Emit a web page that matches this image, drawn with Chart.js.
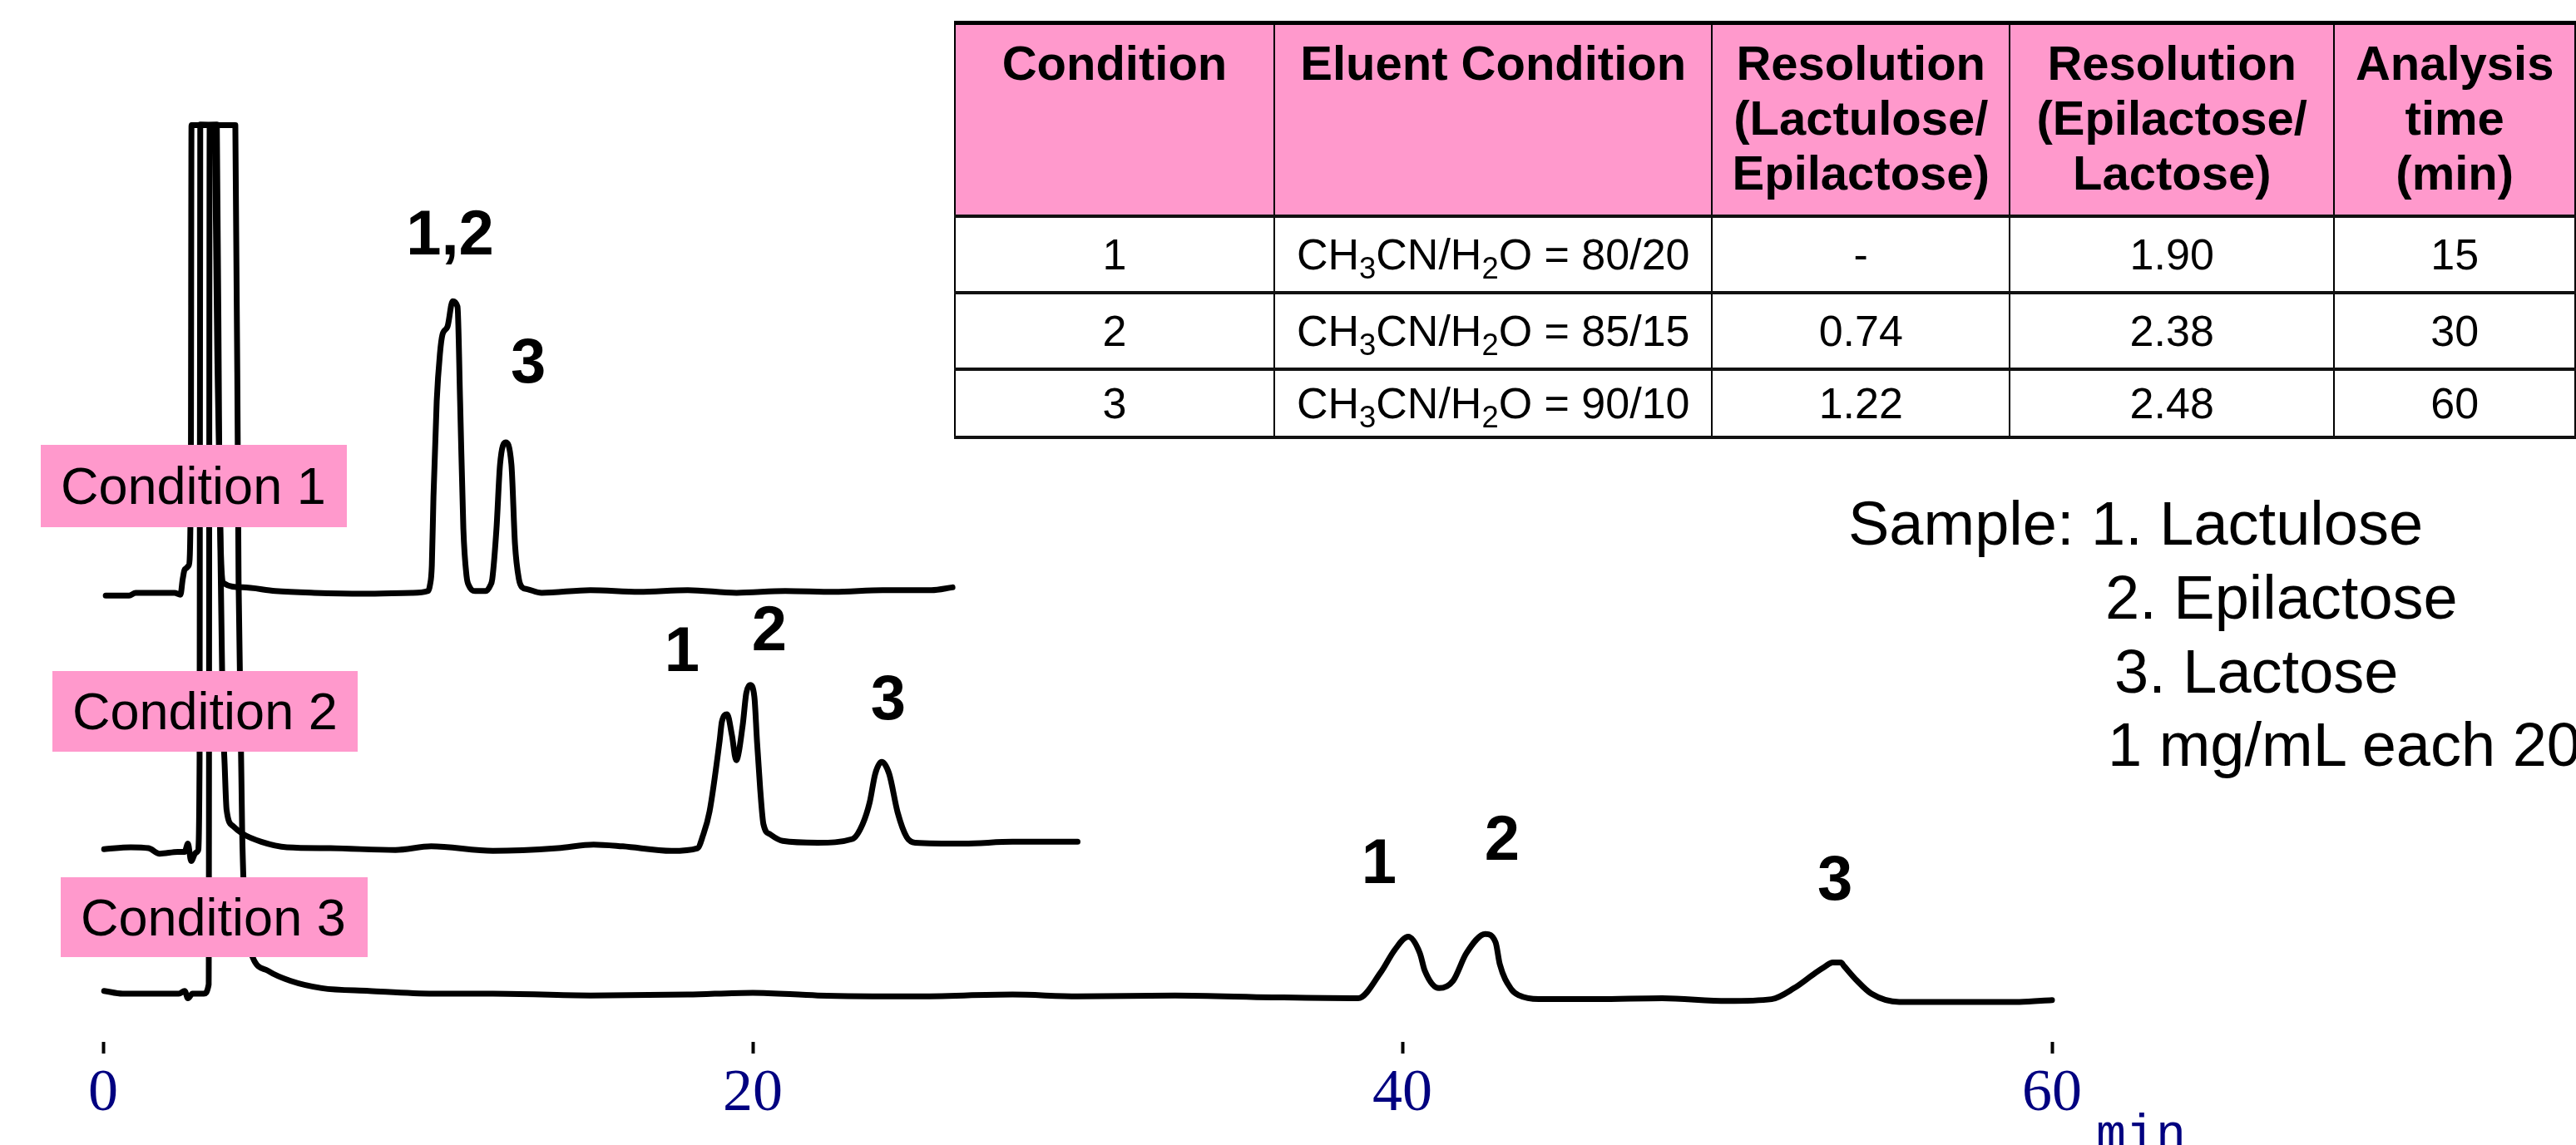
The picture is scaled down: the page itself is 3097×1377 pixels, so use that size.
<!DOCTYPE html>
<html>
<head>
<meta charset="utf-8">
<script src="https://cdn.jsdelivr.net/npm/chart.js@4.4.1/dist/chart.umd.min.js"></script>
<style>
  html, body { margin: 0; padding: 0; background: #fff; overflow: hidden; }
  #wrap { position: relative; width: 3097px; height: 1377px; overflow: hidden; font-family: 'Liberation Sans', Arial, sans-serif; color: #000; }
  #chart { position: absolute; left: 0; top: 0; }
  .cond { position: absolute; background: #ff99cc; font-size: 63px; line-height: 1; display: flex; align-items: center; box-sizing: border-box; padding-left: 24px; white-space: nowrap; }
  .sample { position: absolute; font-size: 74px; line-height: 74px; white-space: nowrap; }
  #tbl { position: absolute; left: 1147px; top: 25px; border-collapse: collapse; table-layout: fixed; border-top: 5px solid #000; }
  #tbl th, #tbl td { border-left: 2px solid #000; border-right: 2px solid #000; border-top: 4px solid #111; border-bottom: 4px solid #111; padding: 0; text-align: center; white-space: nowrap; }
  #tbl th { background: #ff99cc; font-weight: bold; font-size: 58px; line-height: 66px; vertical-align: top; padding-top: 13px; height: 215px; }
  #tbl td { font-size: 52px; vertical-align: middle; height: 88px; }
  #tbl tr.last td { height: 78px; }
  #tbl sub { font-size: 0.7em; line-height: 0; vertical-align: -0.3em; }
</style>
</head>
<body>
<div id="wrap">
  <canvas id="chart" width="3097" height="1377"></canvas>
  <table id="tbl"></table>
</div>
<script>
// x axis (retention time, min)
const timeTicks = [0, 20, 40, 60];

// three chromatograms, stacked; signal is relative to each trace's own baseline
const conditionNames = ['Condition 1', 'Condition 2', 'Condition 3'];
const baselineOffset = [48.96, 21.12, 5.26];

const cond1Time = [0.08, 0.8, 1.0, 2.2, 2.38, 2.45, 2.52, 2.64, 2.70, 2.72, 3.42, 3.52, 3.62, 3.69, 4.3, 5.3, 6.5, 8.0, 9.5,
  10.0, 10.06, 10.12, 10.17, 10.27, 10.37, 10.45, 10.60, 10.76, 10.91, 10.99, 11.09, 11.19, 11.26, 11.45, 11.78,
  11.92, 11.98, 12.11, 12.22, 12.39, 12.57, 12.68, 12.80, 12.90, 13.06,
  13.5, 15.0, 16.5, 18.0, 19.5, 21.0, 22.5, 24.0, 25.5, 26.15];
const cond1Signal = [-0.3, -0.3, 0.0, 0.0, -0.2, 1.5, 2.6, 3.0, 12, 51.0, 51.0, 25, 5, 1.1, 0.6, 0.2, 0.0, -0.1, 0.0,
  0.2, 0.8, 3.0, 10.5, 20.9, 26.1, 28.2, 29.0, 31.8, 31.2, 20.9, 7.0, 1.8, 0.8, 0.2, 0.2,
  0.8, 1.5, 7.0, 14.0, 16.4, 14.0, 5.3, 1.5, 0.6, 0.4,
  0.0, 0.3, 0.1, 0.3, 0.0, 0.2, 0.1, 0.3, 0.3, 0.6];

const cond2Time = [0.03, 0.85, 1.4, 1.74, 2.3, 2.51, 2.61, 2.71, 2.85, 2.92, 2.97, 2.99, 3.50, 3.58, 3.68, 3.74, 3.80, 4.0,
  4.28, 4.87, 5.66, 7.0, 9.0, 10.1, 12.0, 14.0, 15.1, 16.0, 17.5, 18.3,
  18.46, 18.67, 18.98, 19.05, 19.21, 19.36, 19.49, 19.69, 19.80, 19.92, 20.05, 20.13, 20.23, 20.33, 20.54, 20.92,
  22.0, 23.07, 23.38, 23.6, 23.77, 23.97, 24.2, 24.46, 24.74, 25.0, 26.5, 28.0, 30.0];
const cond2Signal = [-0.1, 0.1, 0.0, -0.6, -0.4, -0.4, 0.5, -1.4, -0.5, -0.3, 10, 78.9, 78.9, 40, 15, 9.2, 4.2, 2.4,
  1.6, 0.7, 0.1, 0.0, -0.2, 0.2, -0.3, 0.0, 0.4, 0.2, -0.3, 0.0,
  1.3, 4.0, 11.7, 13.8, 14.6, 12.3, 9.6, 13.4, 16.9, 17.8, 16.5, 11.7, 6.4, 2.6, 1.5, 0.8,
  0.6, 1.0, 2.6, 5.0, 8.1, 9.4, 8.1, 3.9, 1.2, 0.6, 0.5, 0.7, 0.7];

const cond3Time = [0.03, 0.6, 1.5, 2.33, 2.51, 2.61, 2.75, 3.10, 3.25, 3.28, 4.07, 4.17, 4.28, 4.38, 4.6, 5.07, 5.76, 6.73,
  8.19, 10.17, 12, 15, 18, 20, 22, 25, 28, 30, 33, 36, 38.64,
  39.33, 39.77, 40.18, 40.54, 40.69, 41.13, 41.56, 41.97, 42.56, 42.87, 43.0, 43.35, 43.6, 44.2, 46, 48, 50, 51.37,
  52.06, 52.73, 52.99, 53.25, 53.5, 53.6, 54.0, 54.44, 55.3, 57, 59, 60];
const cond3Signal = [0.3, 0.0, 0.0, 0.0, 0.3, -0.5, 0.0, 0.0, 1.0, 94.7, 94.7, 44.9, 17.7, 8.0, 4.0, 2.5, 1.4, 0.6,
  0.3, 0.0, 0.0, -0.2, -0.1, 0.1, -0.2, -0.3, -0.1, -0.3, -0.2, -0.4, -0.5,
  2.3, 4.8, 6.2, 4.4, 2.5, 0.6, 1.4, 4.4, 6.5, 5.6, 3.2, 0.5, -0.2, -0.6, -0.6, -0.5, -0.8, -0.6,
  0.6, 2.3, 2.9, 3.4, 3.4, 3.0, 1.4, 0.0, -0.9, -0.9, -0.9, -0.7];

// peak numbers (time, stacked level)
const peakLabelText = ['1,2', '3', '1', '2', '3', '1', '2', '3'];
const peakLabelTime = [10.68, 13.09, 17.82, 20.51, 24.17, 39.28, 43.07, 53.32];
const peakLabelLevel = [85.9, 71.9, 40.4, 42.7, 35.2, 17.3, 19.9, 15.5];

// table
const tableHeaders = ['Condition', 'Eluent Condition', 'Resolution<br>(Lactulose/<br>Epilactose)', 'Resolution<br>(Epilactose/<br>Lactose)', 'Analysis<br>time<br>(min)'];
const tableConditions = ['1', '2', '3'];
const eluentRatio = ['80/20', '85/15', '90/10'];
const resLactuloseEpilactose = ['-', '0.74', '1.22'];
const resEpilactoseLactose = ['1.90', '2.38', '2.48'];
const analysisTime = ['15', '30', '60'];

const sampleLines = ['Sample: 1. Lactulose', '2. Epilactose', '3. Lactose', '1 mg/mL each 20'];

const traces = [
  { time: cond1Time, signal: cond1Signal },
  { time: cond2Time, signal: cond2Signal },
  { time: cond3Time, signal: cond3Signal }
];

// build the table
const tbl = document.getElementById('tbl');
const colWidths = [385, 527, 358, 391, 290];
let html = '<colgroup>' + colWidths.map(w => `<col style="width:${w}px">`).join('') + '</colgroup>';
html += '<tr>' + tableHeaders.map(h => `<th>${h}</th>`).join('') + '</tr>';
tableConditions.forEach((c, i) => {
  html += `<tr${i === tableConditions.length - 1 ? ' class="last"' : ''}>` +
    `<td>${c}</td>` +
    `<td>CH<sub>3</sub>CN/H<sub>2</sub>O = ${eluentRatio[i]}</td>` +
    `<td>${resLactuloseEpilactose[i]}</td>` +
    `<td>${resEpilactoseLactose[i]}</td>` +
    `<td>${analysisTime[i]}</td>` +
    '</tr>';
});
tbl.innerHTML = html;

// condition tags and sample note
const wrap = document.getElementById('wrap');
const condBoxes = [[49, 535, 368, 99], [63, 807, 367, 97], [73, 1055, 369, 96]];
conditionNames.forEach((name, i) => {
  const d = document.createElement('div');
  d.className = 'cond';
  const b = condBoxes[i];
  d.style.cssText = `left:${b[0]}px;top:${b[1]}px;width:${b[2]}px;height:${b[3]}px;`;
  d.textContent = name;
  wrap.appendChild(d);
});
const samplePos = [[2222, 593], [2531, 682], [2542, 771], [2534, 859]];
sampleLines.forEach((s, i) => {
  const d = document.createElement('div');
  d.className = 'sample';
  d.style.left = samplePos[i][0] + 'px';
  d.style.top = samplePos[i][1] + 'px';
  d.textContent = s;
  wrap.appendChild(d);
});

const peakLabelPlugin = {
  id: 'peakLabels',
  afterDatasetsDraw(chart) {
    const { ctx } = chart;
    const x = chart.scales.x, y = chart.scales.y;
    ctx.save();
    ctx.fillStyle = '#000';
    ctx.font = "bold 76px 'Liberation Sans', Arial, sans-serif";
    ctx.textAlign = 'center';
    ctx.textBaseline = 'alphabetic';
    peakLabelText.forEach((txt, i) => {
      ctx.fillText(txt, x.getPixelForValue(peakLabelTime[i]), y.getPixelForValue(peakLabelLevel[i]));
    });
    // unit next to last tick
    ctx.fillStyle = '#000080';
    ctx.font = "60px 'Liberation Mono', monospace";
    ctx.textAlign = 'left';
    ctx.fillText('min', x.getPixelForValue(timeTicks[timeTicks.length - 1]) + 53, chart.height + 4);
    ctx.restore();
  }
};

new Chart(document.getElementById('chart'), {
  type: 'line',
  data: {
    datasets: traces.map((tr, i) => ({
      label: conditionNames[i],
      data: tr.time.map((t, k) => ({ x: t, y: tr.signal[k] + baselineOffset[i] })),
      borderColor: '#000',
      borderWidth: 7,
      pointRadius: 0,
      fill: false,
      cubicInterpolationMode: 'monotone',
      borderJoinStyle: 'round',
      borderCapStyle: 'round',
      clip: false
    }))
  },
  options: {
    responsive: false,
    animation: false,
    layout: { padding: { left: 124, right: 630, top: 150, bottom: 0 } },
    plugins: { legend: { display: false }, tooltip: { enabled: false } },
    scales: {
      x: {
        type: 'linear',
        min: timeTicks[0],
        max: timeTicks[timeTicks.length - 1],
        afterBuildTicks: s => { s.ticks = timeTicks.map(v => ({ value: v })); },
        afterFit: s => { s.height = 124; },
        ticks: { color: '#000080', font: { family: "'Liberation Serif', serif", size: 72 }, padding: 6, maxRotation: 0 },
        grid: { drawOnChartArea: false, drawTicks: true, tickLength: 14, tickWidth: 4, tickColor: '#000' },
        border: { display: false }
      },
      y: { display: false, min: 0, max: 100 }
    }
  },
  plugins: [peakLabelPlugin]
});
</script>
</body>
</html>
